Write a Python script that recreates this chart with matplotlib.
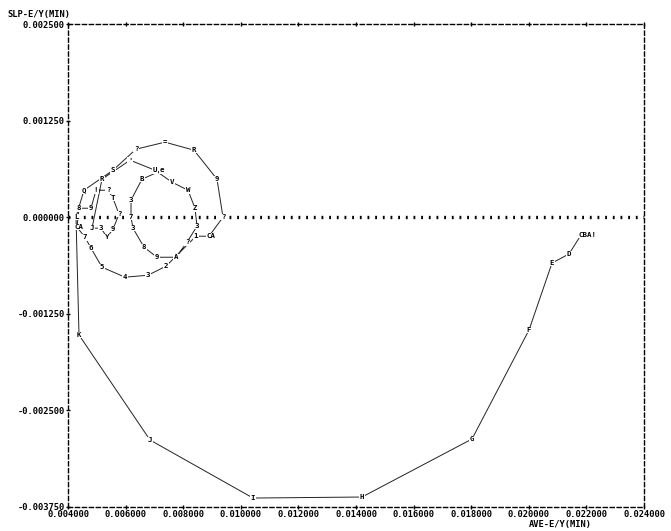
import matplotlib.pyplot as plt

# trajectory of the slope vs. average of E/Y, one mark per period
ave_ey = [0.021813, 0.021396, 0.020806, 0.020007, 0.018028, 0.014208, 0.010424,
          0.006847, 0.004382, 0.004278,
          0.004556, 0.005562, 0.006361, 0.007368, 0.008375, 0.009174, 0.009382,
          0.008896, 0.008444, 0.007403, 0.006778, 0.005979, 0.005181, 0.004799,
          0.004590, 0.004312,
          0.004382, 0.004799, 0.004972, 0.005389, 0.005562, 0.005771, 0.005562,
          0.005354, 0.005146, 0.004833,
          0.005181, 0.006153, 0.007021, 0.007611, 0.008167, 0.008410, 0.008479,
          0.008132, 0.007750, 0.007090, 0.006639, 0.006257, 0.006188, 0.006188,
          0.006569, 0.007260]
slp_ey = [-0.000230, -0.000476, -0.000593, -0.001460, -0.002870, -0.003621, -0.003634,
          -0.002883, -0.001524, 0.000003,
          0.000349, 0.000608, 0.000880, 0.000971, 0.000867, 0.000492, 0.000000,
          -0.000246, -0.000246, -0.000634, -0.000751, -0.000776, -0.000647, -0.000401,
          -0.000259, -0.000129,
          0.000116, 0.000116, 0.000349, 0.000349, 0.000246, 0.000039, -0.000155,
          -0.000259, -0.000142, -0.000142,
          0.000492, 0.000738, 0.000608, 0.000453, 0.000349, 0.000116, -0.000116,
          -0.000324, -0.000518, -0.000518, -0.000388, -0.000142, 0.000000, 0.000220,
          0.000492, 0.000608]
marks = ['CBA!', 'D', 'E', 'F', 'G', 'H', 'I', 'J', 'K', 'L',
         'Q', 'S', '?', '=', 'R', '9', '?', 'CA', '1', '2', '3', '4', '5', '6',
         '7', 'CA',
         '8', '9', '!', '?', 'T', '?', '9', 'Y', '3', 'J',
         'R', "'", 'U', 'V', 'W', 'Z', '3', '?', 'A', '9', '8', '3', '7', '3',
         'B', 'e']

x_ticks = [0.004, 0.006, 0.008, 0.010, 0.012, 0.014, 0.016, 0.018, 0.020, 0.022, 0.024]
y_ticks = [-0.00375, -0.0025, -0.00125, 0.0, 0.00125, 0.0025]

MONO = 'DejaVu Sans Mono'

fig = plt.figure(figsize=(6.71, 5.31), dpi=100)
ax = fig.add_axes([68 / 671, 1 - 507 / 531, 576 / 671, 483 / 531])

ax.set_xlim(x_ticks[0], x_ticks[-1])
ax.set_ylim(y_ticks[0], y_ticks[-1])

# zero reference drawn as a row of printer dots
ax.axhline(0, color='black', lw=2.4, ls=(0, (0.55, 1.75)), zorder=1)

ax.plot(ave_ey, slp_ey, color='#222222', lw=0.7, zorder=2)
for x, y, m in zip(ave_ey, slp_ey, marks):
    if len(m) > 1:
        ax.annotate(m, (x, y), xytext=(-2, 0), textcoords='offset points',
                    ha='left', va='center', fontsize=5.3, family=MONO,
                    weight='bold', zorder=3,
                    bbox=dict(fc='white', ec='none', pad=0.2))
    else:
        ax.text(x, y, m, ha='center', va='center', fontsize=5.3, family=MONO,
                weight='bold', zorder=3,
                bbox=dict(fc='white', ec='none', pad=0.2))

for s in ax.spines.values():
    s.set_linestyle((0, (3, 2)))
    s.set_linewidth(1.0)

ax.set_xticks(x_ticks)
ax.set_xticklabels(['%.6f' % v for v in x_ticks])
ax.set_yticks(y_ticks)
ax.set_yticklabels(['%.6f' % v for v in y_ticks])
ax.tick_params(direction='inout', length=3, width=1, labelsize=6.3, pad=1,
               top=True)
for lab in ax.get_xticklabels() + ax.get_yticklabels():
    lab.set_family(MONO)
    lab.set_weight('bold')

fig.text(7 / 671, 1 - 15 / 531, 'SLP-E/Y(MIN)', ha='left', va='center',
         fontsize=6.3, family=MONO, weight='bold')
fig.text(560 / 671, 1 - 525 / 531, 'AVE-E/Y(MIN)', ha='center', va='center',
         fontsize=6.3, family=MONO, weight='bold')

fig.savefig('out.png', dpi=100)
